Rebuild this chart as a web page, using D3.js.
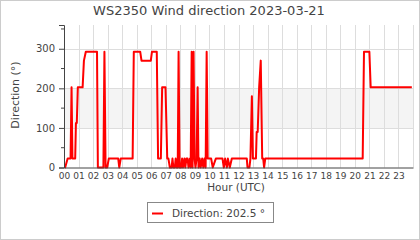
<!DOCTYPE html>
<html>
<head>
<meta charset="utf-8">
<script src="https://d3js.org/d3.v7.min.js"></script>
<style>
  body { margin: 0; background: #fff; }
  text { font-family: "DejaVu Sans", sans-serif; fill: #444; }
</style>
</head>
<body>
<script>
// wind direction samples (hour of day, degrees)
var hours = [0.05, 0.08, 0.25, 0.45, 0.52, 0.58, 0.77, 0.82, 0.88, 0.95, 1.28, 1.37, 1.5, 2.27, 2.33, 2.71, 2.78, 2.86, 2.97, 3.08,
  3.73, 3.8, 3.9, 4.72, 4.8, 5.24, 5.33, 5.97, 6.05, 6.38, 6.47, 6.66, 6.75, 6.98, 7.1, 7.18, 7.28, 7.4, 7.46, 7.52,
  7.62, 7.68, 7.75, 7.82, 7.88, 7.95, 8.05, 8.12, 8.18, 8.28, 8.34, 8.42, 8.5, 8.56, 8.66, 8.71, 8.78, 8.84, 8.91, 8.98,
  9.04, 9.12, 9.19, 9.25, 9.33, 9.4, 9.5, 9.58, 9.66, 9.74, 9.81, 9.88, 10.12, 10.23, 10.44, 10.9, 10.99, 11.08, 11.2, 11.27,
  11.4, 11.54, 12.57, 12.62, 12.75, 12.82, 12.92, 12.99, 13.2, 13.25, 13.32, 13.42, 13.53, 13.63, 13.7, 13.76, 13.84, 20.54, 20.63, 21.0,
  21.09, 23.92];
var directions = [0, 0, 22.5, 22.5, 202.5, 22.5, 22.5, 112.5, 112.5, 202.5, 202.5, 270, 292.5, 292.5, 0, 0, 292.5, 0, 0, 22.5,
  22.5, 0, 22.5, 22.5, 292.5, 292.5, 270, 270, 292.5, 292.5, 22.5, 22.5, 202.5, 202.5, 22.5, 22.5, 0, 0, 22.5, 0,
  0, 22.5, 0, 0, 292.5, 0, 0, 22.5, 0, 22.5, 0, 22.5, 22.5, 0, 22.5, 0, 292.5, 0, 292.5, 22.5,
  0, 22.5, 202.5, 0, 22.5, 0, 22.5, 0, 22.5, 0, 292.5, 22.5, 22.5, 0, 22.5, 22.5, 0, 22.5, 0, 22.5,
  0, 22.5, 22.5, 0, 0, 22.5, 180, 22.5, 22.5, 90, 90, 202.5, 270, 22.5, 22.5, 0, 22.5, 22.5, 292.5, 292.5,
  202.5, 202.5];
var hourTicks = d3.range(0, 24);
var dirTicks = [0, 100, 200, 300];
var dirMinor = [50, 150, 250, 350];
var band = [100, 200];
var seriesName = "Direction";

var W = 420, H = 240;
var svg = d3.select("body").append("svg").attr("width", W).attr("height", H);

svg.append("rect").attr("x", 0.5).attr("y", 0.5).attr("width", W - 1).attr("height", H - 1)
  .attr("fill", "#fff").attr("stroke", "#ccc");

var x = d3.scaleLinear().domain([0, 24]).range([64, 413]);
var y = d3.scaleLinear().domain([0, 360]).range([167.5, 25]);

// shaded band
svg.append("rect")
  .attr("x", x(0)).attr("width", x(24) - x(0))
  .attr("y", y(band[1])).attr("height", y(band[0]) - y(band[1]))
  .attr("fill", "#f4f4f4");

// grid
svg.append("g").selectAll("line").data(d3.range(1, 25)).join("line")
  .attr("x1", d => Math.round(x(d)) + 0.5).attr("x2", d => Math.round(x(d)) + 0.5)
  .attr("y1", y(360)).attr("y2", y(0))
  .attr("stroke", "#ddd");
svg.append("g").selectAll("line").data(dirTicks.slice(1)).join("line")
  .attr("x1", x(0)).attr("x2", x(24))
  .attr("y1", d => Math.round(y(d)) + 0.5).attr("y2", d => Math.round(y(d)) + 0.5)
  .attr("stroke", "#ddd");

// data line
var pts = hours.map((h, i) => [h, directions[i]]);
svg.append("path").datum(pts)
  .attr("fill", "none").attr("stroke", "#ff0000").attr("stroke-width", 2)
  .attr("stroke-linejoin", "round")
  .attr("d", d3.line().x(d => x(d[0])).y(d => y(d[1])));

// y axis
var yAxis = svg.append("g").attr("transform", "translate(" + x(0) + ",0)")
  .call(d3.axisLeft(y).tickValues(dirTicks).tickSize(5).tickPadding(4));
yAxis.select(".domain").attr("stroke", "#444");
yAxis.selectAll(".tick line").attr("stroke", "#444");
yAxis.selectAll("text").style("font-size", "10px").attr("fill", "#444");
svg.append("g").selectAll("line").data(dirMinor).join("line")
  .attr("x1", x(0) - 3).attr("x2", x(0))
  .attr("y1", d => y(d)).attr("y2", d => y(d))
  .attr("stroke", "#444");

// x axis
var xAxis = svg.append("g").attr("transform", "translate(0," + y(0) + ")")
  .call(d3.axisBottom(x).tickValues(hourTicks).tickSize(0).tickPadding(5)
    .tickFormat(d => d3.format("02d")(d)));
xAxis.select(".domain").attr("stroke", "#444");
xAxis.selectAll("text").style("font-size", "9px").attr("fill", "#444");

// titles
svg.append("text").attr("x", 209).attr("y", 15).attr("text-anchor", "middle")
  .style("font-size", "13px").text("WS2350 Wind direction 2023-03-21");
svg.append("text").attr("transform", "translate(19,95)rotate(-90)").attr("text-anchor", "middle")
  .style("font-size", "11px").text("Direction (°)");
svg.append("text").attr("x", 236).attr("y", 191).attr("text-anchor", "middle")
  .style("font-size", "10.5px").text("Hour (UTC)");

// legend
var leg = svg.append("g");
leg.append("rect").attr("x", 147.5).attr("y", 202.5).attr("width", 126).attr("height", 20)
  .attr("fill", "#fff").attr("stroke", "#888");
leg.append("line").attr("x1", 152).attr("x2", 163).attr("y1", 213.5).attr("y2", 213.5)
  .attr("stroke", "#ff0000").attr("stroke-width", 2);
leg.append("text").attr("x", 172).attr("y", 217).style("font-size", "10.5px")
  .text(seriesName + ": " + directions[directions.length - 1] + " °");
</script>
</body>
</html>
